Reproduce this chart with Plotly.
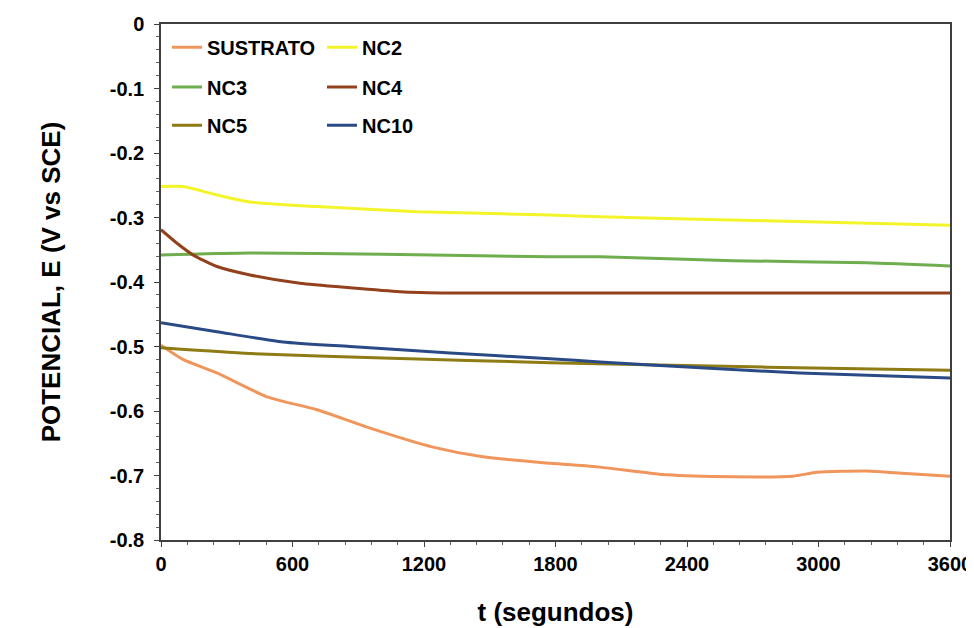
import plotly.graph_objects as go

# time (s) and potential (V vs SCE)
t_sus = [0, 100, 255, 484, 712, 940, 1241, 1469, 1775, 2003, 2309, 2610, 2884, 2993, 3221, 3400, 3600]
e_sus = [-0.498, -0.52, -0.541, -0.578, -0.598, -0.625, -0.656, -0.671, -0.681, -0.687, -0.699, -0.702, -0.701, -0.695, -0.693, -0.697, -0.701]

t_nc2 = [0, 100, 255, 406, 712, 1168, 1775, 2003, 2765, 3600]
e_nc2 = [-0.252, -0.252, -0.265, -0.276, -0.283, -0.291, -0.296, -0.299, -0.305, -0.312]

t_nc3 = [0, 406, 1013, 1775, 2003, 2610, 3221, 3600]
e_nc3 = [-0.358, -0.355, -0.357, -0.361, -0.361, -0.367, -0.370, -0.375]

t_nc4 = [0, 73, 146, 255, 406, 634, 862, 1090, 1319, 2000, 3000, 3600]
e_nc4 = [-0.319, -0.34, -0.358, -0.376, -0.389, -0.402, -0.409, -0.415, -0.417, -0.417, -0.417, -0.417]

t_nc5 = [0, 406, 1013, 1775, 2765, 3600]
e_nc5 = [-0.502, -0.511, -0.518, -0.525, -0.532, -0.537]

t_nc10 = [0, 255, 557, 862, 1319, 1775, 2003, 2460, 2915, 3600]
e_nc10 = [-0.463, -0.477, -0.493, -0.500, -0.510, -0.519, -0.524, -0.533, -0.541, -0.549]

x_ticks = [0, 600, 1200, 1800, 2400, 3000, 3600]
y_ticks = [0, -0.1, -0.2, -0.3, -0.4, -0.5, -0.6, -0.7, -0.8]
y_labels = ['0', '-0.1', '-0.2', '-0.3', '-0.4', '-0.5', '-0.6', '-0.7', '-0.8']

series = [
    ('SUSTRATO', t_sus, e_sus, '#F0965C', 'legend'),
    ('NC2', t_nc2, e_nc2, '#F4F42A', 'legend'),
    ('NC3', t_nc3, e_nc3, '#6FAE4E', 'legend2'),
    ('NC4', t_nc4, e_nc4, '#93401C', 'legend2'),
    ('NC5', t_nc5, e_nc5, '#8E7B14', 'legend3'),
    ('NC10', t_nc10, e_nc10, '#2A4A86', 'legend3'),
]

FAM = 'Liberation Sans, Arial'

fig = go.Figure()
for name, t, e, col, leg in series:
    fig.add_trace(go.Scatter(x=t, y=e, mode='lines', name=name, legend=leg,
                             line=dict(color=col, width=3, shape='spline', smoothing=0.6)))

leg_common = dict(orientation='h', x=0.0076, xanchor='left', yanchor='middle',
                  entrywidth=110, entrywidthmode='pixels', bgcolor='rgba(0,0,0,0)',
                  font=dict(family=FAM, size=20, color='#000000', weight='bold'),
                  tracegroupgap=0, itemwidth=30)

# page has an 8px body margin, so the figure is a bit smaller and margins shifted
fig.update_layout(
    width=966, height=620,
    margin=dict(l=153, r=24, t=16, b=88, autoexpand=False),
    paper_bgcolor='white', plot_bgcolor='white',
    showlegend=True,
    legend=dict(y=0.955, **leg_common),
    legend2=dict(y=0.878, **leg_common),
    legend3=dict(y=0.804, **leg_common),
)

fig.update_xaxes(range=[0, 3600], tickvals=x_ticks, showgrid=False, zeroline=False, automargin=False,
                 showline=True, linecolor='#404040', linewidth=1.5, mirror=True,
                 ticks='outside', ticklen=5, tickcolor='#404040',
                 minor=dict(dtick=120, ticks='outside', ticklen=3, tickcolor='#606060'),
                 tickfont=dict(family=FAM, size=20, color='#000000', weight='bold'),
                 title=dict(text='t (segundos)', standoff=29,
                            font=dict(family=FAM, size=26, color='#000000', weight='bold')))
fig.update_yaxes(range=[-0.8, 0], tickvals=y_ticks, ticktext=y_labels, showgrid=False, zeroline=False,
                 automargin=False, ticklabelstandoff=6,
                 showline=True, linecolor='#404040', linewidth=1.5, mirror=True,
                 ticks='outside', ticklen=5, tickcolor='#404040',
                 minor=dict(dtick=0.02, ticks='outside', ticklen=3, tickcolor='#606060'),
                 tickfont=dict(family=FAM, size=20, color='#000000', weight='bold'),
                 title=dict(text='POTENCIAL, E (V vs SCE)', standoff=42,
                            font=dict(family=FAM, size=26, color='#000000', weight='bold')))

fig.write_html('out.html')
